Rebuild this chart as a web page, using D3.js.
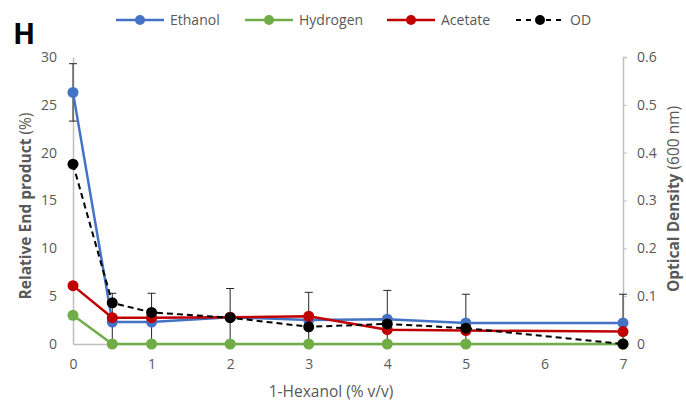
<!DOCTYPE html>
<meta charset="utf-8">
<style>
  body { margin:0; background:#fff; }
  text { font-family:"Open Sans", sans-serif; }
</style>
<svg width="686" height="403"></svg>
<script src="https://d3js.org/d3.v7.min.js"></script>
<script>
// data
var hexanol  = [0, 0.5, 1, 2, 3, 4, 5, 7];
var ethanol  = [26.3, 2.3, 2.3, 2.8, 2.5, 2.6, 2.2, 2.2];
var ethErr   = [3.0, 3.0, 3.0, 3.0, 2.9, 3.0, 3.0, 3.0];
var hydrogen = [3.0, 0, 0, 0, 0, 0, 0, 0];
var acetate  = [6.1, 2.75, 2.75, 2.8, 2.9, 1.5, 1.4, 1.3];
var od       = [0.376, 0.086, 0.066, 0.055, 0.036, 0.042, 0.033, 0];
var xTicks   = [0, 1, 2, 3, 4, 5, 6, 7];
var yTicks   = [0, 5, 10, 15, 20, 25, 30];
var y2Ticks  = [0, 0.1, 0.2, 0.3, 0.4, 0.5, 0.6];

var svg = d3.select("svg"),
    plotL = 73, plotR = 623, plotT = 57, plotB = 344;

var x = d3.scaleLinear().domain([0, 7]).range([plotL, plotR]);
var y = d3.scaleLinear().domain([0, 30]).range([plotB, plotT]);
var y2 = d3.scaleLinear().domain([0, 0.6]).range([plotB, plotT]);

var grey = "#595959", axisGrey = "#bfbfbf";

// axes
var yAxis = svg.append("g").attr("transform", "translate(" + plotL + ",0)")
  .call(d3.axisLeft(y).tickValues(yTicks).tickSize(0).tickPadding(16).tickFormat(d3.format("d")));
var y2Axis = svg.append("g").attr("transform", "translate(" + plotR + ",0)")
  .call(d3.axisRight(y2).tickValues(y2Ticks).tickSize(4).tickPadding(10)
    .tickFormat(function(d) { return d === 0 ? "0" : d3.format(".1f")(d); }));
var xAxis = svg.append("g").attr("transform", "translate(0," + plotB + ")")
  .call(d3.axisBottom(x).tickValues(xTicks).tickSize(0).tickPadding(15).tickFormat(d3.format("d")));

[yAxis, y2Axis, xAxis].forEach(function(a) {
  a.select(".domain").attr("stroke", axisGrey).attr("stroke-width", 1.5);
  a.selectAll(".tick line").attr("stroke", axisGrey);
  a.selectAll("text").attr("fill", grey).style("font-size", "14px")
    .style("font-family", "'Open Sans', sans-serif");
});

// error bars (ethanol), clipped at the x axis
svg.append("clipPath").attr("id", "plot")
  .append("rect").attr("x", plotL - 10).attr("y", 0)
  .attr("width", plotR - plotL + 20).attr("height", plotB);

var err = svg.append("g").attr("clip-path", "url(#plot)")
  .attr("stroke", "#262626").attr("stroke-width", 1);
hexanol.forEach(function(h, i) {
  var lo = ethanol[i] - ethErr[i], hi = ethanol[i] + ethErr[i];
  err.append("line").attr("x1", x(h)).attr("x2", x(h))
    .attr("y1", y(Math.max(lo, -1))).attr("y2", y(hi));
  err.append("line").attr("x1", x(h) - 4).attr("x2", x(h) + 4)
    .attr("y1", y(hi)).attr("y2", y(hi));
  if (lo > 0) {
    err.append("line").attr("x1", x(h) - 4).attr("x2", x(h) + 4)
      .attr("y1", y(lo)).attr("y2", y(lo));
  }
});

var series = [
  { name: "Ethanol",  values: ethanol,  color: "#4472C4", scale: y,  dash: null },
  { name: "Hydrogen", values: hydrogen, color: "#70AD47", scale: y,  dash: null },
  { name: "Acetate",  values: acetate,  color: "#C00000", scale: y,  dash: null },
  { name: "OD",       values: od,       color: "#000000", scale: y2, dash: "6,4" }
];

series.forEach(function(s) {
  var line = d3.line()
    .x(function(d, i) { return x(hexanol[i]); })
    .y(function(d) { return s.scale(d); });
  var g = svg.append("g");
  g.append("path").datum(s.values)
    .attr("d", line)
    .attr("fill", "none")
    .attr("stroke", s.color)
    .attr("stroke-width", s.dash ? 2 : 2.5)
    .attr("stroke-dasharray", s.dash);
  g.selectAll("circle").data(s.values).enter().append("circle")
    .attr("cx", function(d, i) { return x(hexanol[i]); })
    .attr("cy", function(d) { return s.scale(d); })
    .attr("r", 5.5)
    .attr("fill", s.color);
});

// legend
var legendX = [116, 245, 387, 516];
var legend = svg.append("g").selectAll("g").data(series).enter().append("g")
  .attr("transform", function(d, i) { return "translate(" + legendX[i] + ",20)"; });
legend.append("line")
  .attr("x1", 0).attr("x2", 48)
  .attr("stroke", function(d) { return d.color; })
  .attr("stroke-width", function(d) { return d.dash ? 2 : 2.5; })
  .attr("stroke-dasharray", function(d) { return d.dash ? "5,5" : null; });
legend.append("circle").attr("cx", 24).attr("r", 5)
  .attr("fill", function(d) { return d.color; });
legend.append("text").attr("x", 54).attr("dy", "0.35em")
  .attr("fill", grey).style("font-size", "14px")
  .text(function(d) { return d.name; });

// panel letter
svg.append("text").attr("x", 13).attr("y", 44)
  .style("font-size", "29px").style("font-weight", "bold")
  .attr("fill", "#000")
  .text("H");

// axis titles
svg.append("text").attr("x", 331).attr("y", 397)
  .attr("text-anchor", "middle").attr("fill", grey).style("font-size", "15.5px")
  .text("1-Hexanol (% v/v)");

var lt = svg.append("text").attr("transform", "translate(31,206)rotate(-90)")
  .attr("text-anchor", "middle").attr("fill", grey).style("font-size", "15.5px");
lt.append("tspan").style("font-weight", "bold").text("Relative End product");
lt.append("tspan").text(" (%)");

var rt = svg.append("text").attr("transform", "translate(679,199)rotate(-90)")
  .attr("text-anchor", "middle").attr("fill", grey).style("font-size", "15.5px");
rt.append("tspan").style("font-weight", "bold").text("Optical Density");
rt.append("tspan").text(" (600 nm)");
</script>
